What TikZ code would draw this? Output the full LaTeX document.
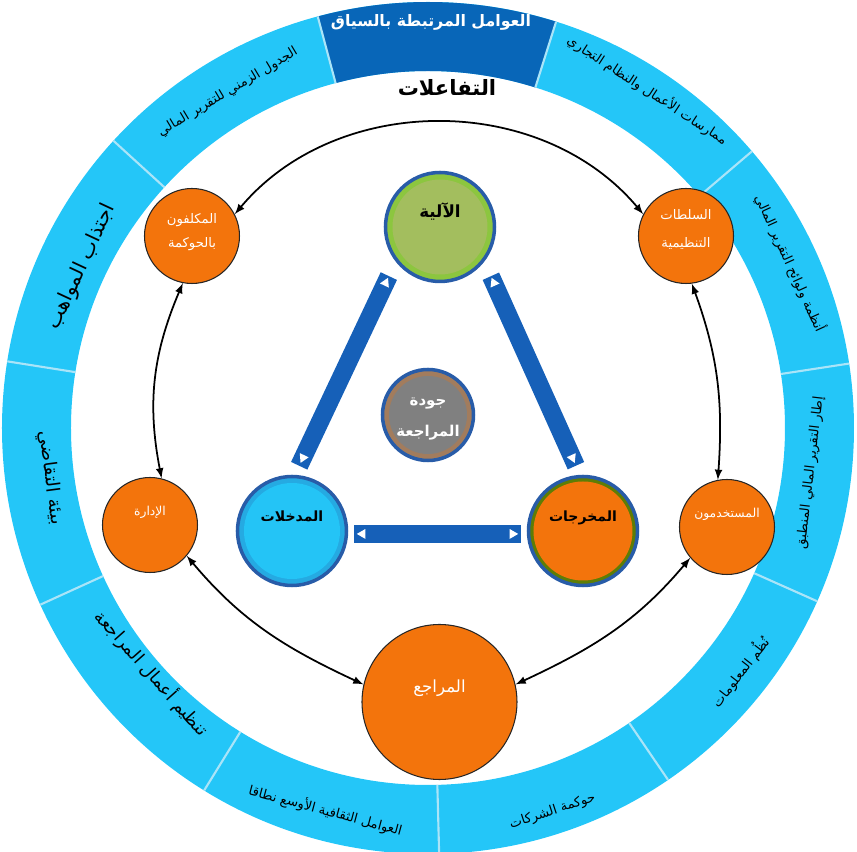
\documentclass[tikz,border=0pt]{standalone}
\usepackage{fontspec}
\usetikzlibrary{shapes.geometric}
\newfontfamily\arabicfont[Script=Arabic]{DejaVu Sans}
\TeXXeTstate=1
\newcommand{\artext}[1]{{\arabicfont\beginR #1\endR}}

\definecolor{segblue}{RGB}{36,198,248}
\definecolor{topblue}{RGB}{8,102,184}
\definecolor{divline}{RGB}{170,228,248}
\definecolor{nodeorange}{RGB}{243,116,12}
\definecolor{ringblue}{RGB}{40,92,168}
\definecolor{barblue}{RGB}{22,96,184}
\definecolor{greenfill}{RGB}{163,190,94}
\definecolor{greenring}{RGB}{140,198,63}
\definecolor{grayfill}{RGB}{128,128,128}
\definecolor{inblue}{RGB}{36,196,246}

\begin{document}
\begin{tikzpicture}[
  seglabel/.style={font=\arabicfont\fontsize{7.5}{9}\selectfont,inner sep=0pt},
  biglabel/.style={font=\arabicfont\fontsize{10.5}{12}\selectfont,inner sep=0pt},
  toplabel/.style={font=\arabicfont\bfseries\fontsize{9}{11}\selectfont,text=white,inner sep=0pt},
  outernode/.style={circle,fill=nodeorange,draw=black!85,line width=0.6pt,text=white,align=center,inner sep=0pt,minimum size=1.9cm,font=\arabicfont\fontsize{7}{15}\selectfont},
  oneline/.style={text height=0.25cm,text depth=0.61cm},
  twolines/.style={text height=0.58cm,text depth=0.1cm},
  corenode/.style={circle,draw=ringblue,line width=2pt,inner sep=0pt,minimum size=2.18cm,font=\arabicfont\bfseries\fontsize{8}{10}\selectfont,text height=0.25cm,text depth=0.61cm},
  coreshade/.style n args={3}{fill=#1,path picture={\fill[#2] (path picture bounding box.center) circle (#3);}},
  bar/.style={draw=barblue,line width=0.36cm},
  tri/.style={isosceles triangle,isosceles triangle apex angle=60,fill=white,inner sep=0pt,minimum height=0.17cm,sloped,allow upside down},
  link/.style={<->,>=latex,line width=1pt}
]
\useasboundingbox (-8.56,-8.48) rectangle (8.58,8.56);

% Ring
\fill[segblue,even odd rule] (0,0) circle (8.52) (0,0) circle (7.14);
\fill[topblue] (72.5:7.14) arc[start angle=72.5,end angle=105,radius=7.14]
  -- (105:8.52) arc[start angle=105,end angle=72.5,radius=8.52] -- cycle;
\foreach \a in {8.7,40.5,72.5,105,137.6,171,204.5,238.3,271.5,304.3,336}
  \draw[divline,line width=1.2pt] (\a:7.14) -- (\a:8.52);

% Ring labels
\node[toplabel] (ctx) at (0.06,8.12) {\artext{العوامل المرتبطة بالسياق}};
\node[seglabel,rotate=30.8] (sched) at (120.8:7.82) {\artext{الجدول الزمني للتقرير المالي}};
\node[seglabel,rotate=-33] (pract) at (57:8.06) {\artext{ممارسات الأعمال والنظام التجاري}};
\node[seglabel,rotate=-65.5] (laws) at (24.5:7.96) {\artext{أنظمة ولوائح التقرير المالي}};
\node[seglabel,rotate=83.3] (frame) at (-6.7:7.7) {\artext{إطار التقرير المالي المنطبق}};
\node[seglabel,rotate=52] (info) at (-38:7.92) {\artext{نُظُم المعلومات}};
\node[seglabel,rotate=18] (corp) at (-72:8.06) {\artext{حوكمة الشركات}};
\node[seglabel,rotate=-15] (cult) at (-105:7.92) {\artext{العوامل الثقافية الأوسع نطاقا}};
\node[biglabel,font=\arabicfont\fontsize{10}{12}\selectfont,rotate=-48.4] (audreg) at (221.6:7.38) {\artext{تنظيم أعمال المراجعة}};
\node[biglabel,rotate=-82.5] (litig) at (187.5:7.62) {\artext{بيئة التقاضي}};
\node[biglabel,font=\arabicfont\fontsize{11.5}{13}\selectfont,rotate=65] (talent) at (155:7.64) {\artext{اجتذاب المواهب}};

% Title
\node[font=\arabicfont\bfseries\fontsize{12}{14}\selectfont] (inter) at (0.38,6.8) {\artext{التفاعلات}};

% Stakeholders
\node[outernode,twolines,font=\arabicfont\fontsize{7.5}{14}\selectfont] (gov) at (-4.72,3.84) {\artext{المكلفون}\\\artext{بالحوكمة}};
\node[outernode,twolines,font=\arabicfont\fontsize{7.5}{16}\selectfont] (reg) at (5.16,3.84) {\artext{السلطات}\\\artext{التنظيمية}};
\node[outernode,oneline] (mgmt) at (-5.56,-1.94) {\artext{الإدارة}};
\node[outernode,oneline] (users) at (5.98,-1.98) {\artext{المستخدمون}};
\node[outernode,oneline,minimum size=3.1cm,font=\arabicfont\fontsize{9.5}{11}\selectfont] (aud) at (0.23,-5.48) {\artext{المراجع}};

% Triangle
\node[corenode,coreshade={greenring}{greenfill}{0.95cm},font=\arabicfont\bfseries\fontsize{9.5}{11}\selectfont] (mech) at (0.24,4.02) {\artext{الآلية}};
\node[corenode,coreshade={inblue!75!ringblue}{inblue}{0.96cm}] (inp) at (-2.72,-2.06) {\artext{المدخلات}};
\node[corenode,coreshade={nodeorange!55!green!70!black}{nodeorange}{0.99cm}] (outp) at (3.1,-2.06) {\artext{المخرجات}};
\node[corenode,coreshade={grayfill!70!nodeorange}{grayfill}{0.78cm},minimum size=1.82cm,text=white,align=center,text height=0.98cm,text depth=0.1cm,font=\arabicfont\bfseries\fontsize{8.5}{18}\selectfont] (qual) at (0,0.26) {\artext{جودة}\\\artext{المراجعة}};

\draw[bar,shorten <=0.32cm,shorten >=0.2cm] (mech.218) -- (inp.87)
  node[tri,pos=0.1,shape border rotate=180] (t1) {} node[tri,pos=0.92] (t2) {};
\draw[bar,shorten <=0.32cm,shorten >=0.2cm] (mech.322) -- (outp.93)
  node[tri,pos=0.1,shape border rotate=180] (t3) {} node[tri,pos=0.92] (t4) {};
\draw[bar,shorten <=0.12cm,shorten >=0.12cm] (inp.-3) -- (outp.183)
  node[tri,pos=0.08,shape border rotate=180] (t5) {} node[tri,pos=0.92] (t6) {};

% Interactions
\draw[link] (gov.27) to[out=50,in=130] (reg.153);
\draw[link] (gov.259) to[out=247,in=101] (mgmt.76);
\draw[link] (reg.277) to[out=290,in=86] (users.101);
\draw[link] (mgmt.-40) to[out=-50,in=155] (aud.167);
\draw[link] (users.220) to[out=230,in=25] (aud.13);
\end{tikzpicture}
\end{document}
